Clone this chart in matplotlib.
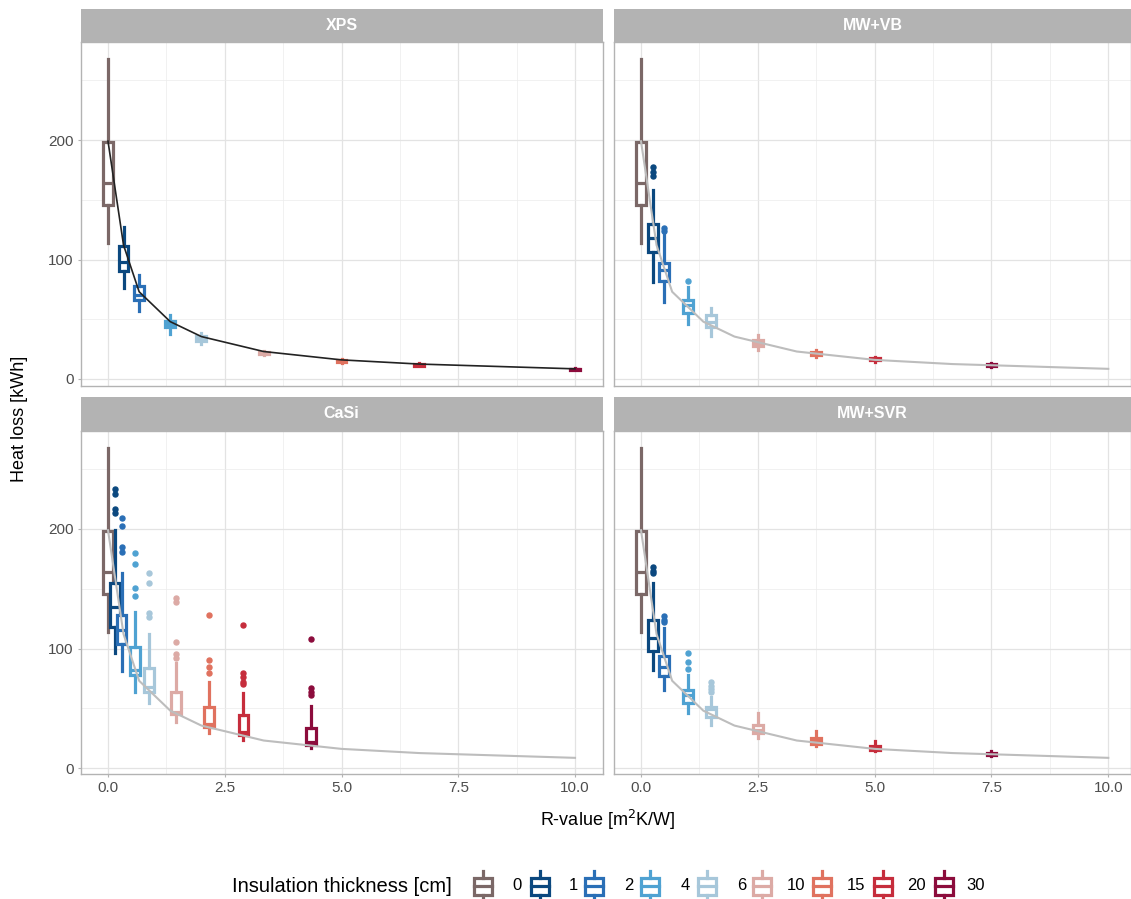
import matplotlib
matplotlib.use("Agg")
import matplotlib.pyplot as plt
from matplotlib.patches import Rectangle
from matplotlib.lines import Line2D

plt.rcParams['font.family'] = ['Liberation Sans', 'DejaVu Sans']

W, H = 1131, 899

# insulation thickness classes and their colours
thickness = ['0', '1', '2', '4', '6', '10', '15', '20', '30']
colors = ['#7b6867', '#0b487f', '#2a6fb6', '#4fa2d2', '#a7c7da',
          '#dcaaa5', '#e0725f', '#c62d3c', '#8c0c3c']

# reference curve (same in every panel)
r_curve = [0, 0.333, 0.667, 1.333, 2.0, 3.333, 5.0, 6.667, 10.0]
q_curve = [199, 112, 73, 48, 35.5, 23, 16, 12.5, 8.5]

# XPS
r_xps = [0, 0.333, 0.667, 1.333, 2.0, 3.333, 5.0, 6.667, 10.0]
lo_xps = [113.5, 76, 57, 38, 29.5, 19.8, 13.7, 10.5, 7.4]
q1_xps = [145.6, 90, 66, 43.2, 31.5, 21, 14.3, 11.2, 7.9]
med_xps = [163.7, 98, 70.3, 46, 34, 22, 15.1, 11.9, 8.3]
q3_xps = [198.6, 111, 78, 48.8, 36, 22.9, 15.9, 12.6, 8.7]
hi_xps = [268, 127, 87, 53.6, 38.2, 23.7, 16.5, 13.2, 9.1]
out_xps = [[], [], [], [], [], [], [], [], []]

# MW+VB
r_mwvb = [0, 0.25, 0.5, 1.0, 1.5, 2.5, 3.75, 5.0, 7.5]
lo_mwvb = [113.5, 81.5, 64.7, 46, 35.6, 24.3, 18.2, 14.6, 10]
q1_mwvb = [145.6, 106.5, 82.3, 55.5, 43.9, 27.6, 20.2, 15.5, 10.8]
med_mwvb = [163.7, 117.7, 91.2, 62, 48.1, 30.4, 21.5, 16.8, 11.5]
q3_mwvb = [198.6, 129.7, 96.8, 66, 53.6, 32.6, 22.9, 17.9, 12.2]
hi_mwvb = [268, 158, 122, 77.3, 59.2, 36.8, 24.3, 18.8, 13]
out_mwvb = [[], [170, 173, 177], [124, 126], [82], [], [], [], [], []]

# CaSi
r_casi = [0, 0.145, 0.29, 0.58, 0.87, 1.45, 2.17, 2.9, 4.35]
lo_casi = [113.5, 96, 81, 64, 54, 38.7, 29, 23.4, 16.5]
q1_casi = [145.6, 118, 104, 78, 64, 45.2, 34, 27.6, 19.5]
med_casi = [163.7, 135, 115.5, 82, 68, 47, 37, 30.4, 22]
q3_casi = [198.6, 155, 128, 101.5, 83.4, 63.8, 51.3, 44.4, 33.2]
hi_casi = [268, 199, 163, 130.8, 112, 88, 72.2, 62.5, 51.9]
out_casi = [[], [213, 216.4, 229.3, 233.2], [181, 185.2, 202.5, 209],
            [144, 150.4, 170.7, 180], [126.6, 130, 155, 163],
            [91.8, 95.1, 105.7, 139.2, 142], [79.2, 84.3, 90.4, 128],
            [70.3, 72.2, 75.9, 79.2, 119.7], [61.1, 63.8, 66.7, 108]]

# MW+SVR
r_mwsvr = [0, 0.25, 0.5, 1.0, 1.5, 2.5, 3.75, 5.0, 7.5]
lo_mwsvr = [113.5, 82, 65.3, 46, 36.3, 25.4, 18, 14, 10]
q1_mwsvr = [145.6, 98.2, 77, 54.1, 43, 29.3, 20.4, 15.4, 10.9]
med_mwsvr = [163.7, 108.5, 84.8, 61.1, 49.7, 31.6, 22.3, 16.5, 11.6]
q3_mwsvr = [198.6, 123.8, 93.7, 65.3, 51.3, 36.3, 25, 18.4, 12.5]
hi_mwsvr = [268, 155, 117, 77.8, 59.7, 46.3, 30.7, 22.3, 14.5]
out_mwsvr = [[], [163, 165, 168], [122, 124, 127], [82.6, 89, 96.5],
             [64, 66, 69, 72], [], [], [], []]


def px_box(x0, y0, x1, y1):
    return [x0 / W, 1 - y1 / H, (x1 - x0) / W, (y1 - y0) / H]


fig = plt.figure(figsize=(W / 100, H / 100), dpi=100)

panels = [
    ('XPS', r_xps, lo_xps, q1_xps, med_xps, q3_xps, hi_xps, out_xps, '#222222', 1.2, 0, 0),
    ('MW+VB', r_mwvb, lo_mwvb, q1_mwvb, med_mwvb, q3_mwvb, hi_mwvb, out_mwvb, '#bdbdbd', 1.5, 1, 0),
    ('CaSi', r_casi, lo_casi, q1_casi, med_casi, q3_casi, hi_casi, out_casi, '#bdbdbd', 1.5, 0, 1),
    ('MW+SVR', r_mwsvr, lo_mwsvr, q1_mwsvr, med_mwsvr, q3_mwsvr, hi_mwsvr, out_mwsvr, '#bdbdbd', 1.5, 1, 1),
]

col_x = [(80.7, 602.7), (614, 1131)]
x_zero = [108, 641]
px_unit = [46.7, 46.73]
row_y = [(8.7, 42, 386), (396.7, 431, 774.3)]
y_zero = [379, 768]
py_unit = 1.195
blw = 2.3

for name, r, lo, q1, med, q3, hi, out, lc, lw, col, row in panels:
    x0, x1 = col_x[col]
    sy0, py0, py1 = row_y[row]
    ax = fig.add_axes(px_box(x0, py0, x1, py1))
    ax.set_xlim((x0 - x_zero[col]) / px_unit[col], (x1 - x_zero[col]) / px_unit[col])
    ax.set_ylim((y_zero[row] - py1) / py_unit, (y_zero[row] - py0) / py_unit)

    for i in range(len(r)):
        c = colors[i]
        stat = dict(whislo=lo[i], q1=q1[i], med=med[i], q3=q3[i], whishi=hi[i], fliers=out[i])
        ax.bxp([stat], positions=[r[i]], widths=0.21, patch_artist=True,
               showcaps=False, manage_ticks=False, zorder=2 + i * 0.01,
               boxprops=dict(facecolor='white', edgecolor=c, linewidth=blw),
               whiskerprops=dict(color=c, linewidth=blw),
               medianprops=dict(color=c, linewidth=blw),
               flierprops=dict(marker='o', markersize=3.6, markerfacecolor=c,
                               markeredgecolor=c, linestyle='none'))

    ax.plot(r_curve, q_curve, color=lc, lw=lw, zorder=5)

    ax.set_xticks([0, 2.5, 5, 7.5, 10])
    ax.set_xticklabels(['0.0', '2.5', '5.0', '7.5', '10.0'])
    ax.set_xticks([1.25, 3.75, 6.25, 8.75], minor=True)
    ax.set_yticks([0, 100, 200])
    ax.set_yticks([50, 150, 250], minor=True)
    ax.grid(which='major', color='#e3e3e3', lw=0.9)
    ax.grid(which='minor', color='#ececec', lw=0.5)
    ax.set_axisbelow(True)
    for sp in ax.spines.values():
        sp.set_color('#b3b3b3')
        sp.set_linewidth(1.0)
    ax.tick_params(which='major', length=2.5, width=0.8, color='#b3b3b3',
                   labelsize=11, labelcolor='#4d4d4d', pad=2.5)
    ax.tick_params(which='minor', length=0)
    if row == 0:
        ax.tick_params(which='major', bottom=False, labelbottom=False)
    if col == 1:
        ax.tick_params(which='major', left=False, labelleft=False)

    # facet strip
    sax = fig.add_axes(px_box(x0, sy0, x1, py0))
    sax.set_facecolor('#b3b3b3')
    sax.set_xticks([])
    sax.set_yticks([])
    for sp in sax.spines.values():
        sp.set_visible(False)
    sax.text(0.5, 0.5, name, color='white', fontsize=11.5, fontweight='bold',
             ha='center', va='center', transform=sax.transAxes)

fig.text(20 / W, 1 - 419 / H, 'Heat loss [kWh]', rotation=90, ha='center', va='center', fontsize=13)
fig.text(608 / W, 1 - 820 / H, 'R-value [m$^2$K/W]', ha='center', va='center', fontsize=13)

# legend drawn by hand in pixel coordinates
lax = fig.add_axes([0, 0, 1, 45 / H])
lax.set_xlim(0, W)
lax.set_ylim(H, H - 45)
lax.axis('off')
lax.text(232, 886, 'Insulation thickness [cm]', ha='left', va='center', fontsize=14.5)
key_x = [482.5, 539.5, 594, 650, 707, 762, 822, 883, 943.5]
lab_x = [512.7, 569, 624, 681, 736.7, 786.7, 846.7, 906.7, 966.7]
for i, t in enumerate(thickness):
    c = colors[i]
    cx = key_x[i]
    lax.add_patch(Rectangle((cx - 9, 877.5), 18, 17, facecolor='white', edgecolor=c, lw=blw))
    lax.add_line(Line2D([cx, cx], [871, 877.5], color=c, lw=blw))
    lax.add_line(Line2D([cx, cx], [894.5, 899], color=c, lw=blw))
    lax.add_line(Line2D([cx - 9, cx + 9], [886, 886], color=c, lw=blw))
    lax.text(lab_x[i], 886, t, ha='left', va='center', fontsize=12)

fig.savefig('out.png', dpi=100)
